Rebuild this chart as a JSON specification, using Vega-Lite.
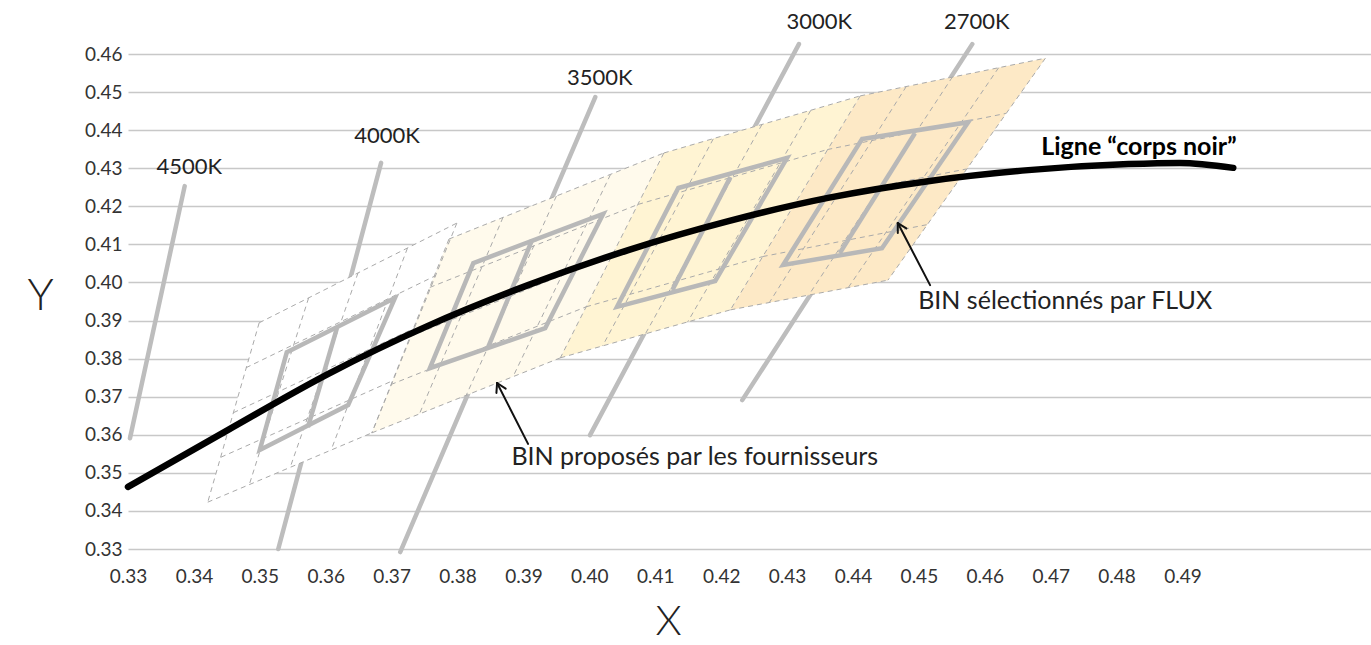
{
  "$schema": "https://vega.github.io/schema/vega-lite/v6.json",
  "width": 1243,
  "height": 495,
  "autosize": {"type": "none"},
  "padding": {"left": 128, "top": 54, "right": 0, "bottom": 96},
  "background": "white",
  "config": {"view": {"stroke": null}, "font": "Lato"},
  "datasets": {
    "cct": [
      {"k": "4500K", "x": 0.3303, "y": 0.3591, "x2": 0.3386, "y2": 0.4253},
      {"k": "4000K", "x": 0.3528, "y": 0.3300, "x2": 0.3684, "y2": 0.4314},
      {"k": "3500K", "x": 0.3713, "y": 0.3292, "x2": 0.4009, "y2": 0.4487},
      {"k": "3000K", "x": 0.4001, "y": 0.3599, "x2": 0.4318, "y2": 0.4626},
      {"k": "2700K", "x": 0.4232, "y": 0.3691, "x2": 0.4581, "y2": 0.4626}
    ],
    "cctlab": [
      {"k": "4500K", "x": 0.3393, "y": 0.4303},
      {"k": "4000K", "x": 0.3693, "y": 0.4385},
      {"k": "3500K", "x": 0.4016, "y": 0.4537},
      {"k": "3000K", "x": 0.4349, "y": 0.4684},
      {"k": "2700K", "x": 0.4588, "y": 0.4684}
    ],
    "fills": [
      {"g": "G1", "i": 1, "x": 0.3499, "y": 0.3894},
      {"g": "G1", "i": 2, "x": 0.3799, "y": 0.4156},
      {"g": "G1", "i": 3, "x": 0.3670, "y": 0.3605},
      {"g": "G1", "i": 4, "x": 0.3421, "y": 0.3423},
      {"g": "G2", "i": 1, "x": 0.3787, "y": 0.4114},
      {"g": "G2", "i": 2, "x": 0.4113, "y": 0.4340},
      {"g": "G2", "i": 3, "x": 0.3956, "y": 0.3802},
      {"g": "G2", "i": 4, "x": 0.3670, "y": 0.3605},
      {"g": "G3", "i": 1, "x": 0.4113, "y": 0.4340},
      {"g": "G3", "i": 2, "x": 0.4411, "y": 0.4490},
      {"g": "G3", "i": 3, "x": 0.4214, "y": 0.3928},
      {"g": "G3", "i": 4, "x": 0.3956, "y": 0.3802},
      {"g": "G4", "i": 1, "x": 0.4411, "y": 0.4490},
      {"g": "G4", "i": 2, "x": 0.4692, "y": 0.4589},
      {"g": "G4", "i": 3, "x": 0.4453, "y": 0.4006},
      {"g": "G4", "i": 4, "x": 0.4214, "y": 0.3928}
    ],
    "mesh": [
      {"x": 0.3499, "y": 0.3894, "x2": 0.3421, "y2": 0.3423},
      {"x": 0.3574, "y": 0.3959, "x2": 0.3484, "y2": 0.3469},
      {"x": 0.3649, "y": 0.4025, "x2": 0.3546, "y2": 0.3514},
      {"x": 0.3724, "y": 0.4090, "x2": 0.3608, "y2": 0.3559},
      {"x": 0.3799, "y": 0.4156, "x2": 0.3670, "y2": 0.3605},
      {"x": 0.3499, "y": 0.3894, "x2": 0.3799, "y2": 0.4156},
      {"x": 0.3479, "y": 0.3776, "x2": 0.3767, "y2": 0.4018},
      {"x": 0.3460, "y": 0.3658, "x2": 0.3735, "y2": 0.3880},
      {"x": 0.3441, "y": 0.3541, "x2": 0.3703, "y2": 0.3743},
      {"x": 0.3421, "y": 0.3423, "x2": 0.3670, "y2": 0.3605},
      {"x": 0.3787, "y": 0.4114, "x2": 0.3670, "y2": 0.3605},
      {"x": 0.3869, "y": 0.4171, "x2": 0.3742, "y2": 0.3654},
      {"x": 0.3950, "y": 0.4227, "x2": 0.3813, "y2": 0.3703},
      {"x": 0.4032, "y": 0.4283, "x2": 0.3884, "y2": 0.3752},
      {"x": 0.4113, "y": 0.4340, "x2": 0.3956, "y2": 0.3802},
      {"x": 0.3787, "y": 0.4114, "x2": 0.4113, "y2": 0.4340},
      {"x": 0.3758, "y": 0.3987, "x2": 0.4074, "y2": 0.4205},
      {"x": 0.3729, "y": 0.3859, "x2": 0.4034, "y2": 0.4071},
      {"x": 0.3699, "y": 0.3732, "x2": 0.3995, "y2": 0.3936},
      {"x": 0.3670, "y": 0.3605, "x2": 0.3956, "y2": 0.3802},
      {"x": 0.4188, "y": 0.4377, "x2": 0.4020, "y2": 0.3833},
      {"x": 0.4262, "y": 0.4415, "x2": 0.4085, "y2": 0.3865},
      {"x": 0.4336, "y": 0.4452, "x2": 0.4149, "y2": 0.3896},
      {"x": 0.4411, "y": 0.4490, "x2": 0.4214, "y2": 0.3928},
      {"x": 0.4113, "y": 0.4340, "x2": 0.4411, "y2": 0.4490},
      {"x": 0.4074, "y": 0.4205, "x2": 0.4361, "y2": 0.4349},
      {"x": 0.4034, "y": 0.4071, "x2": 0.4312, "y2": 0.4209},
      {"x": 0.3995, "y": 0.3936, "x2": 0.4263, "y2": 0.4068},
      {"x": 0.3956, "y": 0.3802, "x2": 0.4214, "y2": 0.3928},
      {"x": 0.4481, "y": 0.4515, "x2": 0.4273, "y2": 0.3947},
      {"x": 0.4551, "y": 0.4540, "x2": 0.4333, "y2": 0.3967},
      {"x": 0.4621, "y": 0.4564, "x2": 0.4393, "y2": 0.3987},
      {"x": 0.4692, "y": 0.4589, "x2": 0.4453, "y2": 0.4006},
      {"x": 0.4411, "y": 0.4490, "x2": 0.4692, "y2": 0.4589},
      {"x": 0.4361, "y": 0.4349, "x2": 0.4632, "y2": 0.4444},
      {"x": 0.4312, "y": 0.4209, "x2": 0.4572, "y2": 0.4298},
      {"x": 0.4263, "y": 0.4068, "x2": 0.4513, "y2": 0.4152},
      {"x": 0.4214, "y": 0.3928, "x2": 0.4453, "y2": 0.4006}
    ],
    "boxes": [
      {"g": "G1", "i": 1, "x": 0.3541, "y": 0.3817},
      {"g": "G1", "i": 2, "x": 0.3705, "y": 0.3959},
      {"g": "G1", "i": 3, "x": 0.3634, "y": 0.3678},
      {"g": "G1", "i": 4, "x": 0.3500, "y": 0.3560},
      {"g": "G2", "i": 1, "x": 0.3824, "y": 0.4051},
      {"g": "G2", "i": 2, "x": 0.4021, "y": 0.4180},
      {"g": "G2", "i": 3, "x": 0.3933, "y": 0.3880},
      {"g": "G2", "i": 4, "x": 0.3758, "y": 0.3775},
      {"g": "G3", "i": 1, "x": 0.4135, "y": 0.4248},
      {"g": "G3", "i": 2, "x": 0.4300, "y": 0.4327},
      {"g": "G3", "i": 3, "x": 0.4191, "y": 0.4004},
      {"g": "G3", "i": 4, "x": 0.4042, "y": 0.3936},
      {"g": "G4", "i": 1, "x": 0.4414, "y": 0.4377},
      {"g": "G4", "i": 2, "x": 0.4575, "y": 0.4421},
      {"g": "G4", "i": 3, "x": 0.4444, "y": 0.4090},
      {"g": "G4", "i": 4, "x": 0.4294, "y": 0.4046}
    ],
    "dividers": [
      {"x": 0.3617, "y": 0.3880, "x2": 0.3573, "y2": 0.3620},
      {"x": 0.3913, "y": 0.4111, "x2": 0.3846, "y2": 0.3828},
      {"x": 0.4214, "y": 0.4277, "x2": 0.4126, "y2": 0.3980},
      {"x": 0.4494, "y": 0.4392, "x2": 0.4380, "y2": 0.4077}
    ],
    "curve": [
      {"x": 0.3300, "y": 0.3463},
      {"x": 0.3452, "y": 0.3613},
      {"x": 0.3604, "y": 0.3760},
      {"x": 0.3755, "y": 0.3886},
      {"x": 0.3907, "y": 0.3993},
      {"x": 0.4059, "y": 0.4085},
      {"x": 0.4211, "y": 0.4161},
      {"x": 0.4362, "y": 0.4222},
      {"x": 0.4514, "y": 0.4266},
      {"x": 0.4666, "y": 0.4295},
      {"x": 0.4818, "y": 0.4311},
      {"x": 0.4896, "y": 0.4314},
      {"x": 0.4977, "y": 0.4301}
    ],
    "arrows": [
      {"x": 0.4517, "y": 0.3993, "x2": 0.4468, "y2": 0.4156},
      {"x": 0.4468, "y": 0.4156, "x2": 0.4468, "y2": 0.4130},
      {"x": 0.4468, "y": 0.4156, "x2": 0.4481, "y2": 0.4142},
      {"x": 0.3907, "y": 0.3576, "x2": 0.3860, "y2": 0.3736},
      {"x": 0.3860, "y": 0.3736, "x2": 0.3859, "y2": 0.3710},
      {"x": 0.3860, "y": 0.3736, "x2": 0.3873, "y2": 0.3721}
    ],
    "notes": [
      {"t": "BIN sélectionnés par FLUX", "x": 0.4722, "y": 0.3951},
      {"t": "BIN proposés par les fournisseurs", "x": 0.4160, "y": 0.3542}
    ],
    "boldnote": [
      {"t": "Ligne “corps noir”", "x": 0.4834, "y": 0.4356}
    ]
  },
  "layer": [
    {
      "data": {"name": "cct"},
      "mark": {"type": "rule", "color": "#bdbdbd", "strokeWidth": 4.5, "strokeCap": "round"},
      "encoding": {
        "x": {
          "field": "x", "type": "quantitative",
          "scale": {"domain": [0.33, 0.5186], "nice": false, "zero": false},
          "axis": {
            "values": [0.33, 0.34, 0.35, 0.36, 0.37, 0.38, 0.39, 0.40, 0.41, 0.42, 0.43, 0.44, 0.45, 0.46, 0.47, 0.48, 0.49],
            "tickCount": 40,
            "format": ".2f", "grid": false, "domain": false, "ticks": false,
            "labelOverlap": false, "labelFlush": false,
            "labelPadding": 18, "labelFontSize": 19, "labelColor": "#333", "labelFont": "Lato",
            "title": "X", "titleFont": "Lato", "titleFontSize": 42, "titleFontWeight": 300, "titleColor": "#222",
            "titleX": 540, "titleY": 72, "titleBaseline": "middle", "titleAlign": "center", "titleAnchor": null
          }
        },
        "y": {
          "field": "y", "type": "quantitative",
          "scale": {"domain": [0.33, 0.46], "nice": false, "zero": false},
          "axis": {
            "values": [0.33, 0.34, 0.35, 0.36, 0.37, 0.38, 0.39, 0.40, 0.41, 0.42, 0.43, 0.44, 0.45, 0.46],
            "tickCount": 40,
            "format": ".2f", "grid": true, "gridColor": "#c8c8c8", "gridWidth": 1.5,
            "domain": false, "ticks": false,
            "labelOverlap": false, "labelFlush": false,
            "labelPadding": 6, "labelFontSize": 19, "labelColor": "#333", "labelFont": "Lato",
            "title": "Y", "titleFont": "Lato", "titleFontSize": 44, "titleFontWeight": 300, "titleColor": "#222",
            "titleAngle": 0, "titleX": -88, "titleY": 242, "titleAlign": "center", "titleBaseline": "middle", "titleAnchor": null
          }
        },
        "x2": {"field": "x2"},
        "y2": {"field": "y2"}
      }
    },
    {
      "data": {"name": "fills"},
      "mark": {"type": "line", "interpolate": "linear-closed", "strokeWidth": 0, "strokeOpacity": 0},
      "encoding": {
        "x": {"field": "x", "type": "quantitative"},
        "y": {"field": "y", "type": "quantitative"},
        "order": {"field": "i", "type": "quantitative"},
        "detail": {"field": "g", "type": "nominal"},
        "fill": {
          "field": "g", "type": "nominal", "legend": null,
          "scale": {"domain": ["G1", "G2", "G3", "G4"], "range": ["#ffffff", "#fffaec", "#fff4d3", "#fde9c6"]}
        }
      }
    },
    {
      "data": {"name": "mesh"},
      "mark": {"type": "rule", "color": "#aaaaaa", "strokeWidth": 1, "strokeDash": [5, 4]},
      "encoding": {
        "x": {"field": "x", "type": "quantitative"},
        "y": {"field": "y", "type": "quantitative"},
        "x2": {"field": "x2"},
        "y2": {"field": "y2"}
      }
    },
    {
      "data": {"name": "boxes"},
      "mark": {"type": "line", "interpolate": "linear-closed", "color": "#b8b8b8", "strokeWidth": 4.5, "strokeJoin": "miter"},
      "encoding": {
        "x": {"field": "x", "type": "quantitative"},
        "y": {"field": "y", "type": "quantitative"},
        "order": {"field": "i", "type": "quantitative"},
        "detail": {"field": "g", "type": "nominal"}
      }
    },
    {
      "data": {"name": "dividers"},
      "mark": {"type": "rule", "color": "#b8b8b8", "strokeWidth": 4.5},
      "encoding": {
        "x": {"field": "x", "type": "quantitative"},
        "y": {"field": "y", "type": "quantitative"},
        "x2": {"field": "x2"},
        "y2": {"field": "y2"}
      }
    },
    {
      "data": {"name": "curve"},
      "mark": {"type": "line", "interpolate": "monotone", "color": "#000000", "strokeWidth": 6.5, "strokeCap": "round"},
      "encoding": {
        "x": {"field": "x", "type": "quantitative"},
        "y": {"field": "y", "type": "quantitative"}
      }
    },
    {
      "data": {"name": "arrows"},
      "mark": {"type": "rule", "color": "#111111", "strokeWidth": 2, "strokeCap": "round"},
      "encoding": {
        "x": {"field": "x", "type": "quantitative"},
        "y": {"field": "y", "type": "quantitative"},
        "x2": {"field": "x2"},
        "y2": {"field": "y2"}
      }
    },
    {
      "data": {"name": "cctlab"},
      "mark": {"type": "text", "font": "Lato", "fontSize": 22, "color": "#222", "baseline": "middle", "align": "center"},
      "encoding": {
        "x": {"field": "x", "type": "quantitative"},
        "y": {"field": "y", "type": "quantitative"},
        "text": {"field": "k"}
      }
    },
    {
      "data": {"name": "notes"},
      "mark": {"type": "text", "font": "Lato", "fontSize": 25, "color": "#222", "baseline": "middle", "align": "center"},
      "encoding": {
        "x": {"field": "x", "type": "quantitative"},
        "y": {"field": "y", "type": "quantitative"},
        "text": {"field": "t"}
      }
    },
    {
      "data": {"name": "boldnote"},
      "mark": {"type": "text", "font": "Lato", "fontSize": 25, "fontWeight": "bold", "color": "#000", "baseline": "middle", "align": "center"},
      "encoding": {
        "x": {"field": "x", "type": "quantitative"},
        "y": {"field": "y", "type": "quantitative"},
        "text": {"field": "t"}
      }
    }
  ]
}
